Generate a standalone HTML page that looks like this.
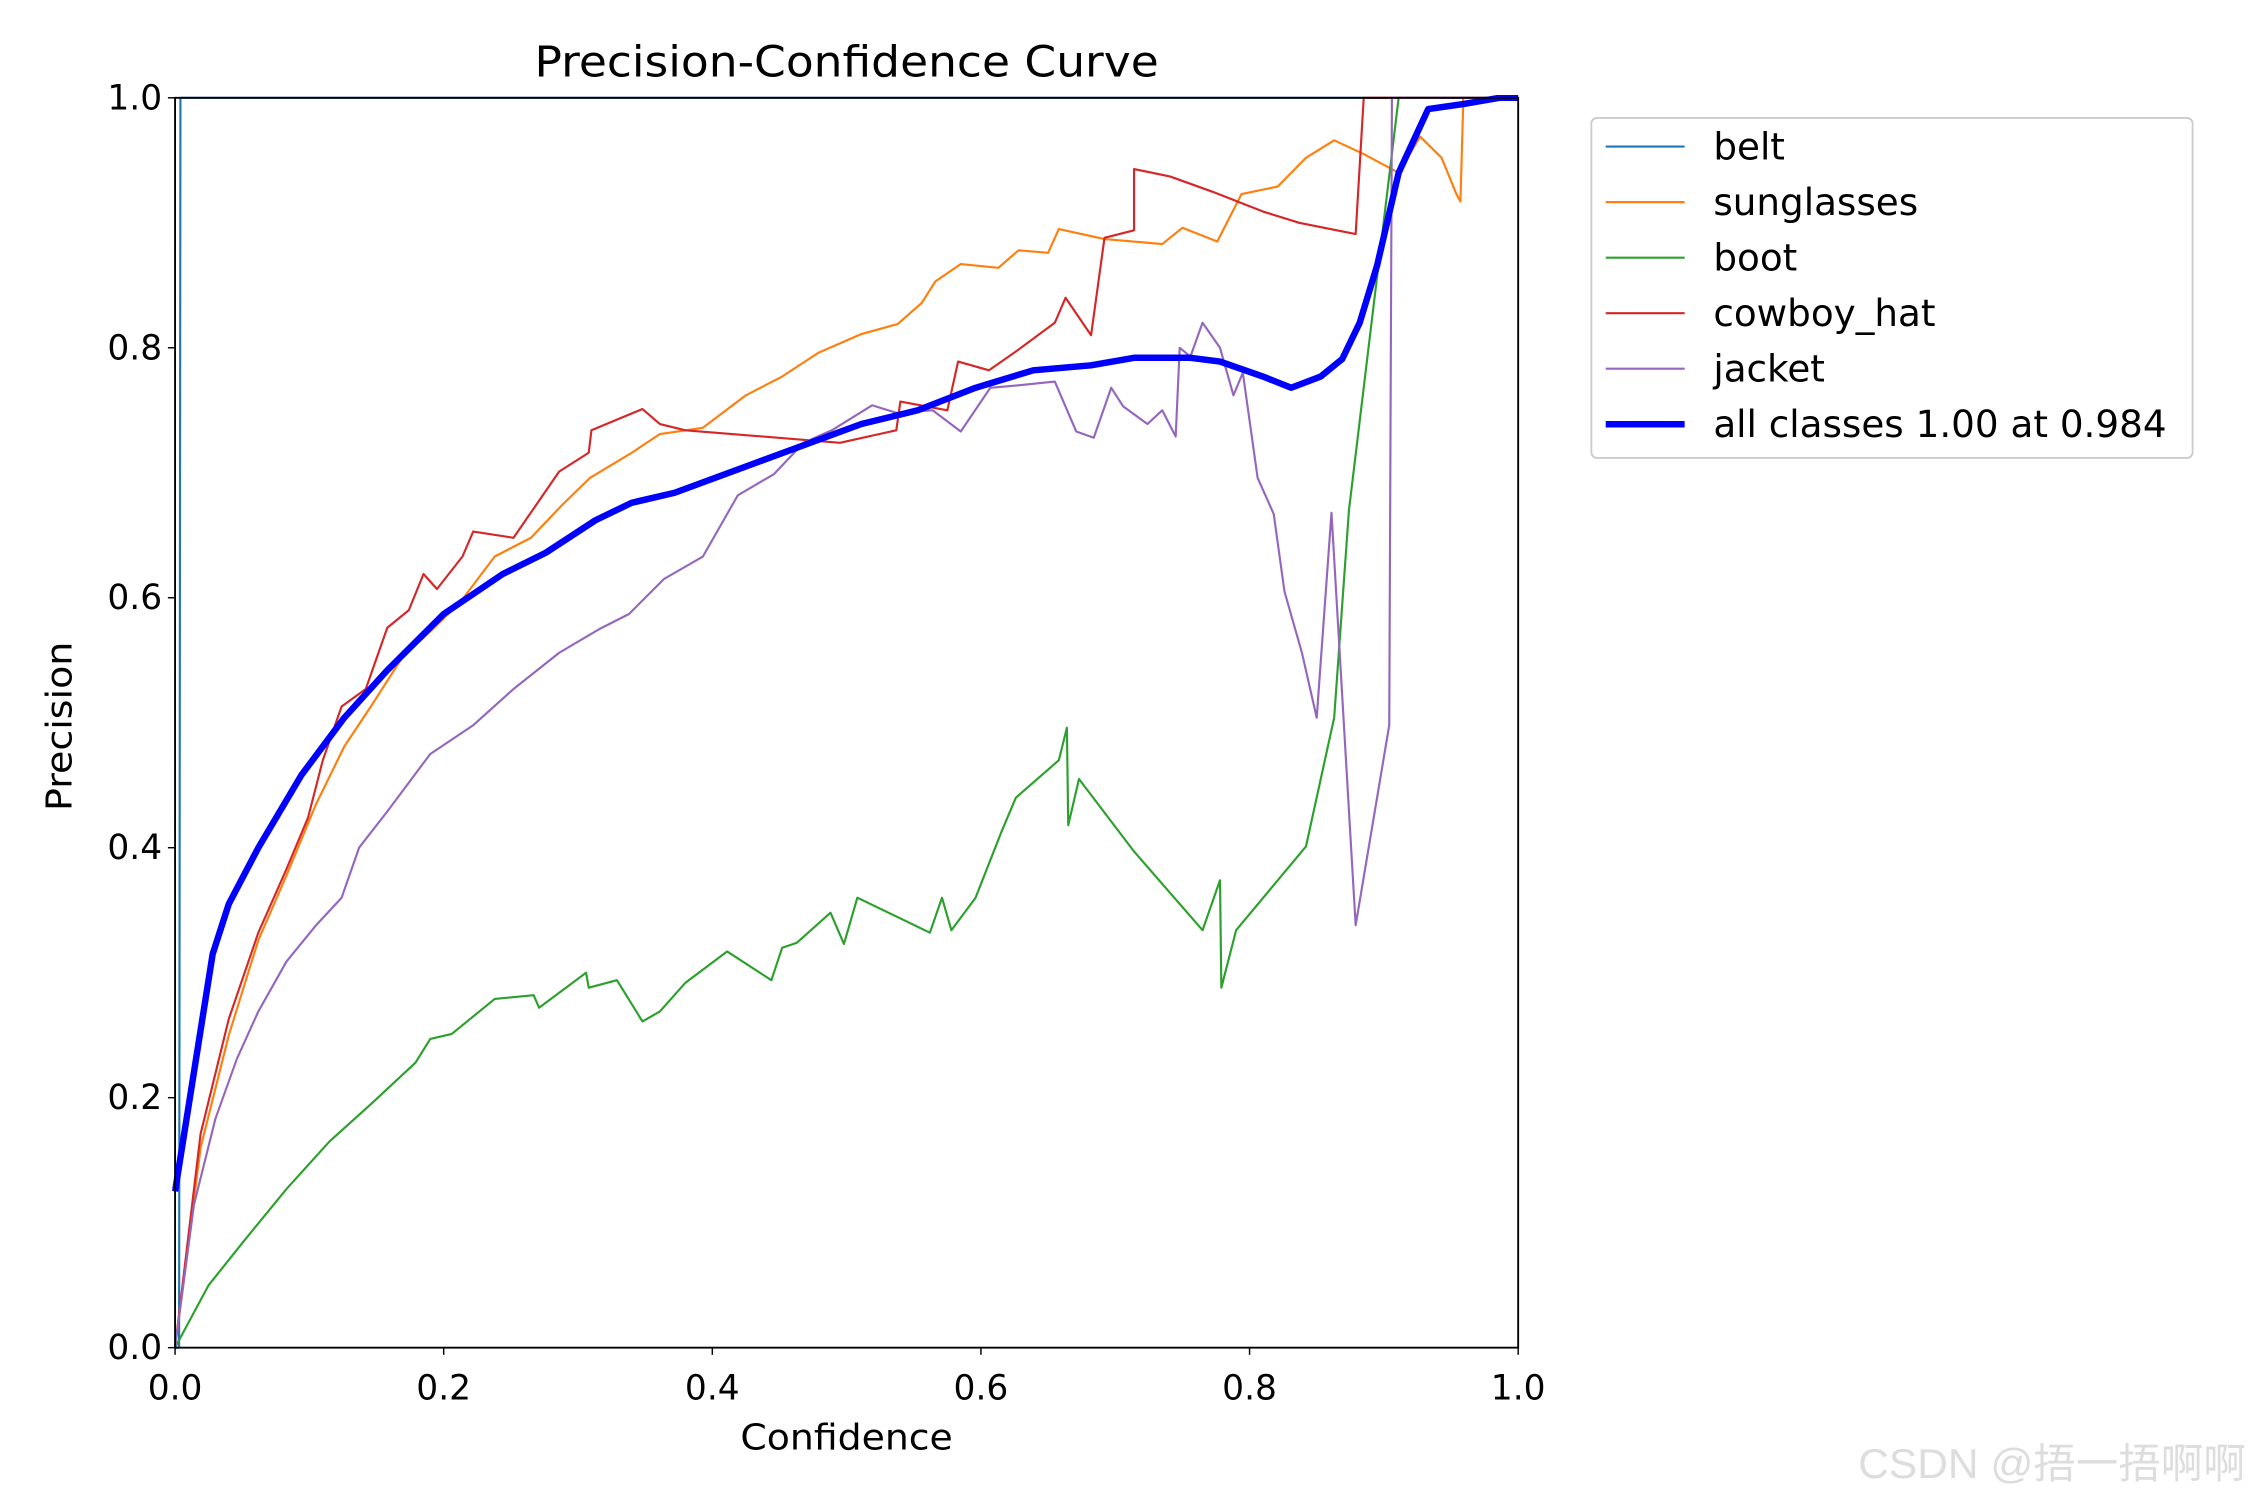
<!DOCTYPE html>
<html><head><meta charset="utf-8"><style>
html,body{margin:0;padding:0;background:#fff;}
svg{display:block;font-family:"DejaVu Sans","Liberation Sans",sans-serif;}
</style></head><body>
<svg id="chart" width="2250" height="1500" viewBox="0 0 1568 1045" xmlns="http://www.w3.org/2000/svg">
<rect width="1568" height="1045" fill="#fff"/>
<text x="590" y="53" font-size="30" text-anchor="middle" textLength="435" lengthAdjust="spacingAndGlyphs">Precision-Confidence Curve</text>
<g id="series" clip-path="url(#clip)"></g>
<defs><clipPath id="clip"><rect x="120" y="66" width="940" height="875"/></clipPath></defs>
<rect x="122" y="68" width="936" height="871" fill="none" stroke="#000" stroke-width="1.3"/>
<g id="axes"></g>
<text x="590" y="1010" font-size="25" text-anchor="middle" textLength="148" lengthAdjust="spacingAndGlyphs">Confidence</text>
<text x="50" y="506" font-size="25" text-anchor="middle" transform="rotate(-90 50 506)" textLength="118" lengthAdjust="spacingAndGlyphs">Precision</text>
<g>
<rect x="1109" y="82" width="419" height="237" rx="4" fill="#fff" stroke="#ccc" stroke-width="1.3"/>
<g id="legend-items"></g>
</g>
<text x="1565" y="1030" font-size="29" fill="#ddd" text-anchor="end" font-family="Liberation Sans, Noto Sans CJK SC, sans-serif" textLength="270" lengthAdjust="spacingAndGlyphs">CSDN @捂一捂啊啊</text>
</svg>
<script>
const tickValues=[0,0.2,0.4,0.6,0.8,1.0];
const tickLabels=["0.0","0.2","0.4","0.6","0.8","1.0"];
const seriesNames=["belt","sunglasses","boot","cowboy_hat","jacket","all classes 1.00 at 0.984"];
const beltX=[0,0.003,0.004,1];
const beltY=[0,0,1,1];
const sunX=[0,0.019,0.04,0.062,0.083,0.105,0.126,0.147,0.169,0.19,0.212,0.238,0.265,0.288,0.309,0.34,0.361,0.393,0.425,0.452,0.479,0.511,0.538,0.556,0.566,0.585,0.613,0.628,0.65,0.658,0.692,0.735,0.75,0.776,0.794,0.821,0.842,0.863,0.885,0.911,0.927,0.943,0.954,0.957,0.959,0.959];
const sunY=[0,0.16,0.25,0.326,0.378,0.435,0.481,0.515,0.552,0.573,0.596,0.633,0.648,0.674,0.696,0.716,0.731,0.736,0.762,0.777,0.796,0.811,0.819,0.836,0.853,0.867,0.864,0.878,0.876,0.895,0.887,0.883,0.896,0.885,0.923,0.929,0.952,0.966,0.955,0.94,0.969,0.952,0.923,0.917,0.992,1];
const bootX=[0,0.025,0.051,0.083,0.115,0.147,0.179,0.19,0.206,0.238,0.267,0.271,0.306,0.308,0.329,0.348,0.361,0.38,0.411,0.444,0.452,0.463,0.488,0.498,0.508,0.562,0.571,0.578,0.596,0.615,0.626,0.658,0.664,0.665,0.673,0.714,0.765,0.778,0.779,0.79,0.842,0.863,0.874,0.911,1];
const bootY=[0,0.05,0.085,0.127,0.165,0.196,0.228,0.247,0.251,0.279,0.282,0.272,0.3,0.288,0.294,0.261,0.269,0.292,0.317,0.294,0.32,0.324,0.348,0.323,0.36,0.332,0.36,0.334,0.36,0.412,0.44,0.47,0.496,0.418,0.455,0.397,0.334,0.374,0.288,0.334,0.401,0.504,0.67,1,1];
const hatX=[0,0.019,0.04,0.062,0.083,0.099,0.11,0.124,0.142,0.158,0.174,0.185,0.195,0.214,0.222,0.252,0.286,0.308,0.31,0.348,0.361,0.38,0.495,0.537,0.54,0.575,0.583,0.606,0.626,0.655,0.663,0.682,0.692,0.714,0.714,0.741,0.772,0.81,0.837,0.879,0.885,1];
const hatY=[0,0.171,0.263,0.332,0.383,0.424,0.47,0.513,0.527,0.576,0.59,0.619,0.607,0.633,0.653,0.648,0.701,0.716,0.734,0.751,0.739,0.734,0.724,0.734,0.757,0.75,0.789,0.782,0.797,0.82,0.84,0.81,0.888,0.894,0.943,0.937,0.925,0.909,0.9,0.891,1,1];
const jacketX=[0,0.014,0.03,0.046,0.062,0.083,0.105,0.124,0.137,0.158,0.19,0.222,0.252,0.286,0.316,0.338,0.364,0.393,0.419,0.446,0.468,0.489,0.519,0.537,0.564,0.585,0.607,0.628,0.655,0.671,0.684,0.697,0.706,0.724,0.735,0.745,0.748,0.756,0.765,0.778,0.788,0.795,0.806,0.818,0.826,0.839,0.85,0.861,0.879,0.904,0.906,1];
const jacketY=[0,0.114,0.183,0.231,0.269,0.309,0.338,0.36,0.4,0.429,0.475,0.498,0.527,0.556,0.575,0.587,0.615,0.633,0.682,0.699,0.724,0.734,0.754,0.748,0.75,0.733,0.768,0.77,0.773,0.733,0.728,0.768,0.753,0.739,0.75,0.729,0.8,0.793,0.82,0.8,0.762,0.78,0.696,0.667,0.605,0.556,0.504,0.668,0.338,0.498,1,1];
const allX=[0,0.028,0.04,0.062,0.094,0.126,0.158,0.2,0.244,0.276,0.313,0.34,0.372,0.425,0.468,0.511,0.553,0.596,0.639,0.682,0.714,0.756,0.778,0.81,0.831,0.853,0.869,0.882,0.895,0.911,0.933,0.959,0.986,1];
const allY=[0.125,0.315,0.355,0.4,0.458,0.504,0.542,0.587,0.619,0.636,0.662,0.676,0.684,0.705,0.722,0.739,0.75,0.768,0.782,0.786,0.792,0.792,0.789,0.777,0.768,0.777,0.791,0.82,0.866,0.94,0.991,0.995,1,1];

const X0=122,X1=1058,Y0=939,Y1=68;
function sx(v){return X0+v*(X1-X0);}
function sy(v){return Y0-v*(Y0-Y1);}
const NS="http://www.w3.org/2000/svg";
const colors=["#1f77b4","#ff7f0e","#2ca02c","#d62728","#9467bd","#0000ff"];
const widths=[1.5,1.5,1.5,1.5,1.5,4.5];
const xs=[beltX,sunX,bootX,hatX,jacketX,allX];
const ys=[beltY,sunY,bootY,hatY,jacketY,allY];
const keys=["belt","sunglasses","boot","cowboy-hat","jacket","all-classes"];
const sg=document.getElementById("series");
for(let i=0;i<xs.length;i++){
  const p=document.createElementNS(NS,"polyline");
  p.setAttribute("points",xs[i].map((x,j)=>sx(x)+","+sy(ys[i][j])).join(" "));
  p.setAttribute("fill","none");
  p.setAttribute("stroke",colors[i]);
  p.setAttribute("stroke-width",widths[i]);
  p.setAttribute("stroke-linejoin","round");
  
  
  sg.appendChild(p);
}
const ax=document.getElementById("axes");
for(let i=0;i<tickValues.length;i++){
  const v=tickValues[i];
  const t1=document.createElementNS(NS,"line");
  t1.setAttribute("x1",sx(v));t1.setAttribute("x2",sx(v));t1.setAttribute("y1",Y0);t1.setAttribute("y2",Y0+5);t1.setAttribute("stroke","#000");
  
  
  ax.appendChild(t1);
  const l1=document.createElementNS(NS,"text");
  l1.setAttribute("x",sx(v));l1.setAttribute("y",Y0+36);l1.setAttribute("font-size","24");l1.setAttribute("text-anchor","middle");
  l1.textContent=tickLabels[i];
  
  
  ax.appendChild(l1);
  const t2=document.createElementNS(NS,"line");
  t2.setAttribute("x1",X0-5);t2.setAttribute("x2",X0);t2.setAttribute("y1",sy(v));t2.setAttribute("y2",sy(v));t2.setAttribute("stroke","#000");
  
  
  ax.appendChild(t2);
  const l2=document.createElementNS(NS,"text");
  l2.setAttribute("x",X0-9);l2.setAttribute("y",sy(v)+8);l2.setAttribute("font-size","24");l2.setAttribute("text-anchor","end");
  l2.textContent=tickLabels[i];
  
  
  ax.appendChild(l2);
}
const lg=document.getElementById("legend-items");
for(let i=0;i<seriesNames.length;i++){
  const y=102+i*38.7;
  const ln=document.createElementNS(NS,"line");
  ln.setAttribute("x1",1119);ln.setAttribute("x2",1174);ln.setAttribute("y1",y);ln.setAttribute("y2",y);
  ln.setAttribute("stroke",colors[i]);ln.setAttribute("stroke-width",widths[i]);
  
  
  lg.appendChild(ln);
  const tx=document.createElementNS(NS,"text");
  tx.setAttribute("x",1194);tx.setAttribute("y",y+9);tx.setAttribute("font-size","26");
  tx.textContent=seriesNames[i];
  
  
  lg.appendChild(tx);
}
</script>
</body></html>
